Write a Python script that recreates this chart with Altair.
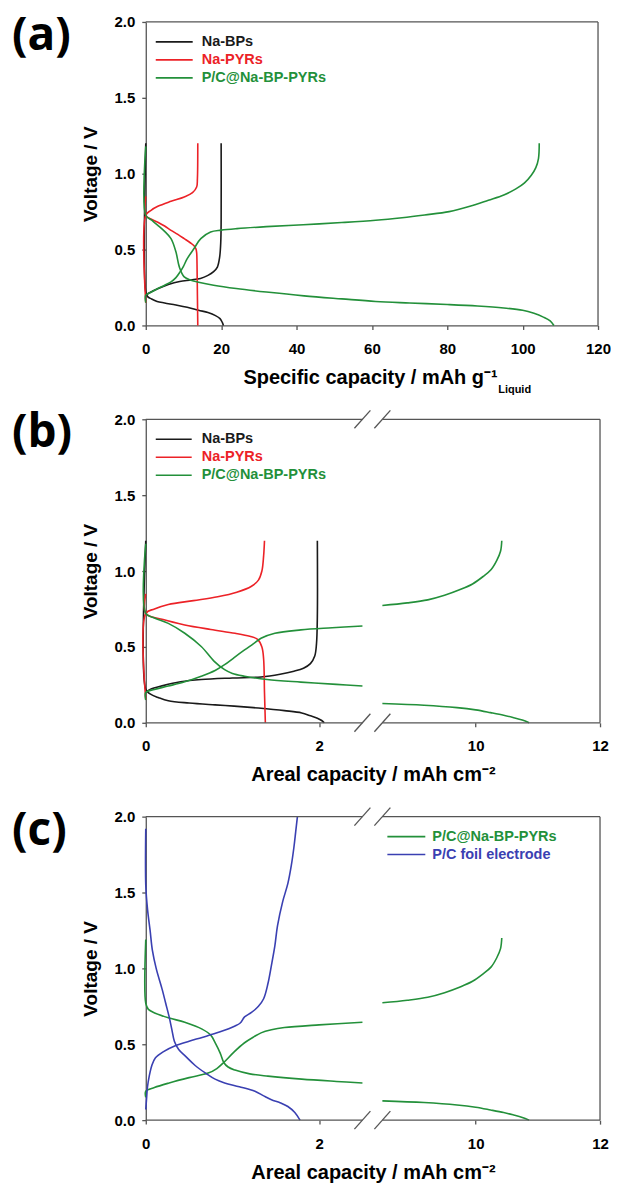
import altair as alt
import pandas as pd

BLACK = "#1a1a1a"
RED = "#ec2227"
GREEN = "#23903a"
BLUE = "#3a40b2"
FRAME = "#555555"

NAMES = ["Na-BPs", "Na-PYRs", "P/C@Na-BP-PYRs", "P/C foil electrode"]
COLORS = [BLACK, RED, GREEN, BLUE]

# ---------------- Panel (a): specific capacity (mAh g-1) ----------------
A_BP_DIS_CAP = [0, 0, 0.5, 1.5, 3, 5, 8, 11, 14, 16.5, 18.5, 19.7, 20.3, 20.6]
A_BP_DIS_V = [1.2, 0.22, 0.19, 0.175, 0.158, 0.148, 0.135, 0.12, 0.1, 0.085, 0.065, 0.045, 0.02, 0.0]
A_BP_CHG_CAP = [0, 1, 3, 6, 9, 12, 14.5, 16.5, 18, 19, 19.6, 19.9, 20, 20]
A_BP_CHG_V = [0.2, 0.215, 0.24, 0.27, 0.29, 0.3, 0.31, 0.33, 0.355, 0.385, 0.45, 0.55, 0.7, 1.2]

A_PYR_DIS_CAP = [0, 0, 1.5, 3.2, 5, 6.7, 8.5, 10.2, 11.8, 12.8, 13.3, 13.5, 13.6, 13.7, 13.8]
A_PYR_DIS_V = [0.85, 0.726, 0.7, 0.68, 0.655, 0.627, 0.6, 0.572, 0.545, 0.525, 0.505, 0.48, 0.4, 0.2, 0.0]
A_PYR_CHG_CAP = [0, 0, 1.4, 3.2, 6.7, 10.2, 12.4, 13.5, 13.7, 13.8]
A_PYR_CHG_V = [0.15, 0.726, 0.759, 0.785, 0.818, 0.847, 0.875, 0.912, 0.967, 1.2]

A_PC_DIS_CAP = [0, 0, 1.5, 3.2, 5, 6.7, 8, 8.9, 10.2, 12, 14, 18, 24, 32, 42, 52, 61, 70, 80, 88, 95, 100, 103, 105.5, 107.3, 108.3]
A_PC_DIS_V = [1.18, 0.726, 0.695, 0.66, 0.62, 0.572, 0.485, 0.386, 0.32, 0.298, 0.285, 0.265, 0.243, 0.22, 0.195, 0.175, 0.158, 0.148, 0.138, 0.128, 0.115, 0.1, 0.08, 0.055, 0.03, 0.0]
A_PC_CHG_CAP = [0, 0, 1.5, 3.2, 5, 6.7, 8, 9.1, 10, 11, 12.8, 14.6, 17.2, 20, 24.2, 32, 41.8, 52, 61, 68, 74, 80.5, 86, 90.9, 95, 98.2, 100.5, 102.3, 103.5, 104.2, 104.4]
A_PC_CHG_V = [0.15, 0.2, 0.22, 0.243, 0.265, 0.287, 0.315, 0.353, 0.39, 0.44, 0.507, 0.572, 0.616, 0.628, 0.638, 0.651, 0.664, 0.678, 0.693, 0.71, 0.728, 0.75, 0.785, 0.825, 0.86, 0.9, 0.94, 0.99, 1.04, 1.1, 1.2]

# ---------------- Panel (b): areal capacity (mAh cm-2) ----------------
B_BP_DIS_CAP = [0, 0, 0.05, 0.15, 0.26, 0.5, 0.8, 1.02, 1.3, 1.6, 1.8, 1.9, 1.98, 2.03, 2.06]
B_BP_DIS_V = [1.2, 0.22, 0.19, 0.165, 0.145, 0.13, 0.118, 0.11, 0.097, 0.08, 0.065, 0.046, 0.03, 0.015, 0.0]
B_BP_CHG_CAP = [0, 0.05, 0.2, 0.4, 0.64, 1.0, 1.33, 1.55, 1.71, 1.82, 1.9, 1.95, 1.97, 1.98, 1.98]
B_BP_CHG_V = [0.2, 0.22, 0.245, 0.27, 0.285, 0.295, 0.302, 0.32, 0.34, 0.36, 0.39, 0.44, 0.52, 0.7, 1.2]

B_PYR_DIS_CAP = [0, 0, 0.2, 0.45, 0.75, 1.03, 1.2, 1.29, 1.34, 1.36, 1.37, 1.38]
B_PYR_DIS_V = [0.85, 0.72, 0.68, 0.645, 0.615, 0.59, 0.57, 0.55, 0.5, 0.42, 0.2, 0.0]
B_PYR_CHG_CAP = [0, 0, 0.1, 0.26, 0.55, 0.83, 1.05, 1.22, 1.3, 1.34, 1.36, 1.37]
B_PYR_CHG_V = [0.15, 0.72, 0.75, 0.78, 0.805, 0.83, 0.86, 0.9, 0.94, 1.0, 1.1, 1.2]

B_PC_DIS_CAP = [0, 0, 0.1, 0.26, 0.45, 0.64, 0.79, 0.91, 1.0, 1.14, 1.4, 1.79, 2.2, 2.51]
B_PC_DIS_V = [1.18, 0.72, 0.69, 0.655, 0.59, 0.503, 0.405, 0.35, 0.325, 0.307, 0.285, 0.268, 0.253, 0.242]
B_PC_CHG_CAP = [0, 0, 0.1, 0.26, 0.45, 0.64, 0.8, 0.91, 1.02, 1.14, 1.24, 1.33, 1.49, 1.79, 2.15, 2.51]
B_PC_CHG_V = [0.15, 0.2, 0.22, 0.242, 0.27, 0.307, 0.345, 0.383, 0.43, 0.48, 0.52, 0.557, 0.59, 0.612, 0.626, 0.638]

# right-hand (broken) segment, shared by (b) and (c)
R_PC_DIS_CAP = [8.5, 9.17, 9.7, 10.0, 10.24, 10.45, 10.6, 10.75, 10.86]
R_PC_DIS_V = [0.127, 0.116, 0.1, 0.085, 0.067, 0.05, 0.035, 0.018, 0.0]
R_PC_CHG_CAP = [8.5, 8.9, 9.23, 9.5, 9.74, 9.95, 10.12, 10.25, 10.34, 10.4, 10.42]
R_PC_CHG_V = [0.773, 0.79, 0.81, 0.84, 0.876, 0.915, 0.964, 1.01, 1.07, 1.13, 1.2]

# ---------------- Panel (c) ----------------
C_PC_DIS_CAP = [0, 0, 0.03, 0.11, 0.27, 0.45, 0.65, 0.75, 0.8, 0.86, 0.9, 0.95, 1.03, 1.2, 1.41, 1.8, 2.2, 2.51]
C_PC_DIS_V = [1.19, 0.77, 0.73, 0.705, 0.673, 0.645, 0.6, 0.56, 0.51, 0.44, 0.38, 0.35, 0.33, 0.305, 0.29, 0.27, 0.255, 0.245]
C_PC_CHG_CAP = [0, 0, 0.1, 0.27, 0.5, 0.72, 0.82, 0.9, 1.02, 1.14, 1.25, 1.33, 1.45, 1.6, 2.0, 2.51]
C_PC_CHG_V = [0.15, 0.19, 0.215, 0.245, 0.28, 0.31, 0.34, 0.38, 0.45, 0.51, 0.55, 0.575, 0.595, 0.61, 0.628, 0.645]

C_FOIL_DIS_CAP = [0, 0, 0.02, 0.05, 0.076, 0.12, 0.19, 0.23, 0.27, 0.3, 0.33, 0.38, 0.46, 0.57, 0.69, 0.8, 0.91, 1.08, 1.26, 1.36, 1.45, 1.55, 1.64, 1.72, 1.78]
C_FOIL_DIS_V = [1.92, 1.55, 1.39, 1.25, 1.12, 1.0, 0.86, 0.77, 0.68, 0.6, 0.52, 0.465, 0.42, 0.36, 0.31, 0.27, 0.245, 0.22, 0.19, 0.16, 0.135, 0.115, 0.09, 0.05, 0.0]
C_FOIL_CHG_CAP = [0, 0.01, 0.02, 0.04, 0.07, 0.11, 0.2, 0.34, 0.5, 0.65, 0.85, 1.03, 1.09, 1.14, 1.22, 1.3, 1.36, 1.41, 1.45, 1.49, 1.52, 1.58, 1.64, 1.68, 1.71, 1.73, 1.75]
C_FOIL_CHG_V = [0.07, 0.15, 0.22, 0.29, 0.36, 0.41, 0.45, 0.49, 0.52, 0.545, 0.58, 0.62, 0.64, 0.68, 0.71, 0.75, 0.8, 0.9, 1.02, 1.15, 1.28, 1.44, 1.56, 1.68, 1.8, 1.9, 2.0]

Y_TICKS = [0, 0.5, 1.0, 1.5, 2.0]
A_X_TICKS = [0, 20, 40, 60, 80, 100, 120]
BC_X_TICKS = [0, 2, 10, 12]
BREAK_DOMAIN = [0, 2.5, 8.5, 12]
BREAK_RANGE = [0, 217, 237, 455]

FONT = "Liberation Sans"
WA, WBC, H = 453, 455, 304


def build(branches):
    rows = []
    for series, branch, caps, vs in branches:
        for i, (c, v) in enumerate(zip(caps, vs)):
            rows.append(dict(series=series, branch=branch, idx=i, cap=c, V=v))
    return pd.DataFrame(rows)


one = pd.DataFrame({"k": [0]})
yscale = alt.Scale(domain=[0, 2], nice=False, zero=False)


def panel(df, xscale, xaxis, width, height, frame, breaks, legend, label, extra=None):
    yaxis = alt.Axis(values=Y_TICKS, format=".1f", title="Voltage / V")
    lines = alt.Chart(df).mark_line(strokeWidth=1.6, interpolate="catmull-rom").encode(
        x=alt.X("cap:Q", scale=xscale, axis=xaxis),
        y=alt.Y("V:Q", scale=yscale, axis=yaxis),
        color=alt.Color("series:N", scale=alt.Scale(domain=NAMES, range=COLORS), legend=None),
        detail="branch:N",
        order="idx:Q",
    )
    layers = [lines]
    fr = alt.Chart(pd.DataFrame(frame, columns=["fx", "fx2", "fy", "fy2"])).mark_rule(
        color=FRAME, strokeWidth=1.3
    ).encode(
        x=alt.X("fx:Q", scale=xscale, axis=xaxis),
        x2="fx2:Q",
        y=alt.Y("fy:Q", scale=yscale, axis=yaxis),
        y2="fy2:Q",
    )
    layers.append(fr)
    if breaks is not None:
        br = alt.Chart(pd.DataFrame(breaks, columns=["bx", "by"])).mark_rule(
            color=FRAME, strokeWidth=1.3, xOffset=-8, x2Offset=8, yOffset=9, y2Offset=-9
        ).encode(
            x=alt.X("bx:Q", scale=xscale, axis=xaxis),
            x2="bx:Q",
            y=alt.Y("by:Q", scale=yscale, axis=yaxis),
            y2="by:Q",
        )
        layers.append(br)
    (lx1, lx2, tx, rows) = legend
    for (name, color), ry in zip(rows, [20, 38, 56]):
        layers.append(
            alt.Chart(one).mark_rule(color=color, strokeWidth=1.6).encode(
                x=alt.value(lx1), x2=alt.value(lx2), y=alt.value(ry)
            )
        )
        layers.append(
            alt.Chart(one).mark_text(
                text=name, color=color, font=FONT, fontSize=14.5, fontWeight="bold",
                align="left", baseline="middle"
            ).encode(x=alt.value(tx), y=alt.value(ry))
        )
    layers.append(
        alt.Chart(one).mark_text(
            text=label, font="Open Sans", fontSize=46, fontWeight="bold",
            align="left", baseline="middle", color="black"
        ).encode(x=alt.value(-134), y=alt.value(14))
    )
    if extra is not None:
        layers.extend(extra)
    return alt.layer(*layers).properties(width=width, height=height)


# ---- panel a ----
dfa = build([
    ("Na-BPs", "bp_d", A_BP_DIS_CAP, A_BP_DIS_V),
    ("Na-BPs", "bp_c", A_BP_CHG_CAP, A_BP_CHG_V),
    ("Na-PYRs", "py_d", A_PYR_DIS_CAP, A_PYR_DIS_V),
    ("Na-PYRs", "py_c", A_PYR_CHG_CAP, A_PYR_CHG_V),
    ("P/C@Na-BP-PYRs", "pc_d", A_PC_DIS_CAP, A_PC_DIS_V),
    ("P/C@Na-BP-PYRs", "pc_c", A_PC_CHG_CAP, A_PC_CHG_V),
])
xs_a = alt.Scale(domain=[0, 120], nice=False, zero=False)
xa_axis = alt.Axis(values=A_X_TICKS, format="d", title="Specific capacity / mAh g⁻¹",
                   titleAlign="right", titleX=352)
liquid = alt.Chart(one).mark_text(
    text="Liquid", font=FONT, fontSize=11, fontWeight="bold", align="left",
    baseline="alphabetic", color="black"
).encode(x=alt.value(353), y=alt.value(372))
pa = panel(
    dfa, xs_a, xa_axis, WA, H,
    [(0, 120, 2, 2), (120, 120, 0, 2)],
    None,
    (10, 47, 56, [("Na-BPs", BLACK), ("Na-PYRs", RED), ("P/C@Na-BP-PYRs", GREEN)]),
    "(a)",
    extra=[liquid],
)

# ---- panel b ----
dfb = build([
    ("Na-BPs", "bp_d", B_BP_DIS_CAP, B_BP_DIS_V),
    ("Na-BPs", "bp_c", B_BP_CHG_CAP, B_BP_CHG_V),
    ("Na-PYRs", "py_d", B_PYR_DIS_CAP, B_PYR_DIS_V),
    ("Na-PYRs", "py_c", B_PYR_CHG_CAP, B_PYR_CHG_V),
    ("P/C@Na-BP-PYRs", "pc_d", B_PC_DIS_CAP, B_PC_DIS_V),
    ("P/C@Na-BP-PYRs", "pc_c", B_PC_CHG_CAP, B_PC_CHG_V),
    ("P/C@Na-BP-PYRs", "pc_dr", R_PC_DIS_CAP, R_PC_DIS_V),
    ("P/C@Na-BP-PYRs", "pc_cr", R_PC_CHG_CAP, R_PC_CHG_V),
])
FRAME_BC = [(0, 2.5, 2, 2), (8.5, 12, 2, 2), (0, 2.5, 0, 0), (8.5, 12, 0, 0), (12, 12, 0, 2)]
BREAKS_BC = [(2.5, 0), (8.5, 0), (2.5, 2), (8.5, 2)]


def bc_scale():
    return alt.Scale(domain=BREAK_DOMAIN, range=BREAK_RANGE, nice=False, zero=False)


def bc_axis():
    return alt.Axis(values=BC_X_TICKS, format="d", title="Areal capacity / mAh cm⁻²",
                    domain=False, labelOverlap=False)


pb = panel(
    dfb, bc_scale(), bc_axis(), WBC, H,
    FRAME_BC, BREAKS_BC,
    (10, 46, 56, [("Na-BPs", BLACK), ("Na-PYRs", RED), ("P/C@Na-BP-PYRs", GREEN)]),
    "(b)",
)

# ---- panel c ----
dfc = build([
    ("P/C@Na-BP-PYRs", "pc_d", C_PC_DIS_CAP, C_PC_DIS_V),
    ("P/C@Na-BP-PYRs", "pc_c", C_PC_CHG_CAP, C_PC_CHG_V),
    ("P/C@Na-BP-PYRs", "pc_dr", R_PC_DIS_CAP, R_PC_DIS_V),
    ("P/C@Na-BP-PYRs", "pc_cr", R_PC_CHG_CAP, R_PC_CHG_V),
    ("P/C foil electrode", "foil_d", C_FOIL_DIS_CAP, C_FOIL_DIS_V),
    ("P/C foil electrode", "foil_c", C_FOIL_CHG_CAP, C_FOIL_CHG_V),
])
pc = panel(
    dfc, bc_scale(), bc_axis(), WBC, H,
    FRAME_BC, BREAKS_BC,
    (242, 280, 287, [("P/C@Na-BP-PYRs", GREEN), ("P/C foil electrode", BLUE)]),
    "(c)",
)

chart = alt.vconcat(pa, pb, pc, spacing=94, bounds="flush").properties(
    padding={"left": 4, "top": 4, "right": 0, "bottom": 0}
).configure_view(strokeWidth=0).configure_axis(
    labelFont=FONT, labelFontSize=15, labelFontWeight="bold", labelColor="black",
    titleFont=FONT, titleFontWeight="bold", titleColor="black",
    domainColor=FRAME, domainWidth=1.3, tickColor=FRAME, tickWidth=1.3, tickSize=4,
    grid=False, labelFlush=False,
).configure_axisX(labelPadding=12, titlePadding=11, titleFontSize=20).configure_axisY(
    labelPadding=7, titlePadding=14, titleFontSize=19
)

chart.save("out.html", embed_options={"renderer": "svg", "actions": False})
